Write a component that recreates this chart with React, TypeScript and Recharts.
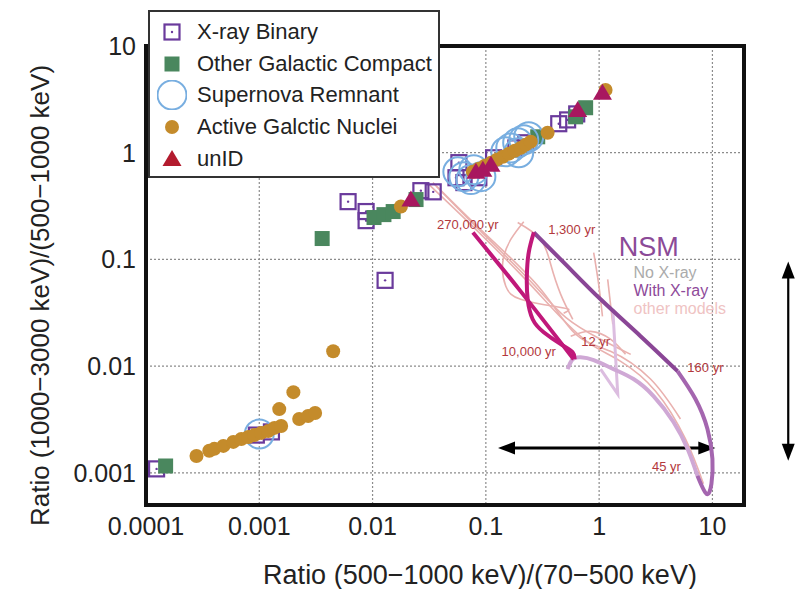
import React from 'react';
import { ScatterChart, Scatter, XAxis, YAxis, CartesianGrid, ReferenceArea, ReferenceLine, Label } from 'recharts';

const FONT = "'Liberation Sans', Arial, Helvetica, sans-serif";

const xTicks = [0.0001, 0.001, 0.01, 0.1, 1, 10];
const yTicks = [0.001, 0.01, 0.1, 1, 10];
const xDomain = [0.0001, 19];
const yDomain = [0.0005, 10];

const legendItems = ['X-ray Binary', 'Other Galactic Compact', 'Supernova Remnant', 'Active Galctic Nuclei', 'unID'];

// source classes
const xrayBinary = [
  { x: 0.000124, y: 0.00109 }, { x: 0.000942, y: 0.00226 }, { x: 0.00128, y: 0.00242 },
  { x: 0.00608, y: 0.348 }, { x: 0.00877, y: 0.281 }, { x: 0.00877, y: 0.231 },
  { x: 0.0267, y: 0.441 }, { x: 0.0343, y: 0.43 }, { x: 0.0129, y: 0.0637 },
  { x: 0.0578, y: 0.807 }, { x: 0.0545, y: 0.583 }, { x: 0.064, y: 0.525 },
  { x: 0.0867, y: 0.583 }, { x: 0.117, y: 0.897 }, { x: 0.184, y: 1.11 },
  { x: 0.225, y: 1.24 }, { x: 0.44, y: 1.87 }, { x: 0.527, y: 2.03 }, { x: 0.634, y: 2.31 },
];

const galacticCompact = [
  { x: 0.000149, y: 0.00116 }, { x: 0.00359, y: 0.157 }, { x: 0.0103, y: 0.247 },
  { x: 0.0126, y: 0.263 }, { x: 0.0152, y: 0.281 }, { x: 0.0242, y: 0.364 },
  { x: 0.287, y: 1.41 }, { x: 0.62, y: 2.17 }, { x: 0.76, y: 2.64 },
];

const supernovaRemnant = [
  { x: 0.001, y: 0.00231 }, { x: 0.0566, y: 0.664 }, { x: 0.064, y: 0.597 },
  { x: 0.0783, y: 0.694 }, { x: 0.0904, y: 0.597 }, { x: 0.0738, y: 0.56 },
  { x: 0.166, y: 1.11 }, { x: 0.191, y: 1.24 }, { x: 0.216, y: 1.32 },
  { x: 0.239, y: 1.41 }, { x: 0.195, y: 1.0 }, { x: 0.15, y: 1.02 },
];

const agn = [
  { x: 0.000279, y: 0.00144 }, { x: 0.000362, y: 0.00161 }, { x: 0.000401, y: 0.00168 },
  { x: 0.000482, y: 0.00179 }, { x: 0.00059, y: 0.00195 }, { x: 0.000694, y: 0.00208 },
  { x: 0.0008, y: 0.00217 }, { x: 0.000904, y: 0.00226 }, { x: 0.00104, y: 0.00237 },
  { x: 0.0012, y: 0.00247 }, { x: 0.00136, y: 0.00264 }, { x: 0.00156, y: 0.00275 },
  { x: 0.0015, y: 0.00396 }, { x: 0.002, y: 0.00571 }, { x: 0.00225, y: 0.0032 },
  { x: 0.0027, y: 0.00341 }, { x: 0.00311, y: 0.00364 }, { x: 0.00449, y: 0.0138 },
  { x: 0.0178, y: 0.313 }, { x: 0.0767, y: 0.664 }, { x: 0.0867, y: 0.708 },
  { x: 0.098, y: 0.756 }, { x: 0.111, y: 0.807 }, { x: 0.125, y: 0.861 },
  { x: 0.141, y: 0.918 }, { x: 0.16, y: 0.98 }, { x: 0.18, y: 1.045 },
  { x: 0.203, y: 1.11 }, { x: 0.225, y: 1.19 }, { x: 0.249, y: 1.27 },
  { x: 0.351, y: 1.54 }, { x: 1.14, y: 3.88 },
];

const unID = [
  { x: 0.0218, y: 0.364 }, { x: 0.0817, y: 0.664 }, { x: 0.0941, y: 0.693 },
  { x: 0.111, y: 0.773 }, { x: 0.647, y: 2.52 }, { x: 1.07, y: 3.64 },
];

// NSM tracks
const nsmWithXray = [
  { x: 0.265, y: 0.179 }, { x: 0.527, y: 0.0861 }, { x: 1.03, y: 0.0423 },
  { x: 2.32, y: 0.0191 }, { x: 4.92, y: 0.00898 },
];
const nsmWithXrayLate = [
  { x: 4.92, y: 0.00898 }, { x: 7.08, y: 0.00492 }, { x: 9.04, y: 0.00258 },
  { x: 10, y: 0.00135 }, { x: 9.8, y: 0.000789 }, { x: 8.85, y: 0.000637 }, { x: 7.38, y: 0.000938 },
];
const nsmReturn = [
  { x: 7.38, y: 0.000938 }, { x: 6.03, y: 0.00168 }, { x: 4.53, y: 0.003 },
  { x: 3.02, y: 0.00525 }, { x: 2.01, y: 0.00757 }, { x: 1.34, y: 0.00938 },
  { x: 0.895, y: 0.0114 }, { x: 0.687, y: 0.0121 }, { x: 0.584, y: 0.0116 }, { x: 0.527, y: 0.00938 },
];
const nsmHook = [
  { x: 1.03, y: 0.00938 }, { x: 1.46, y: 0.00547 }, { x: 1.32, y: 0.0341 },
];
const nsmOld = [
  { x: 0.0768, y: 0.179 }, { x: 0.203, y: 0.0502 }, { x: 0.596, y: 0.0116 },
];
const nsmLoop = [
  { x: 0.265, y: 0.179 }, { x: 0.239, y: 0.116 }, { x: 0.23, y: 0.0694 },
  { x: 0.234, y: 0.0423 }, { x: 0.259, y: 0.0275 }, { x: 0.324, y: 0.0208 },
  { x: 0.458, y: 0.0161 }, { x: 0.584, y: 0.0135 }, { x: 0.608, y: 0.0116 },
];
const otherModels = [
  [{ x: 0.0315, y: 0.502 }, { x: 0.0738, y: 0.212 }, { x: 0.203, y: 0.0724 }, { x: 0.458, y: 0.0287 },
   { x: 0.841, y: 0.0161 }, { x: 1.55, y: 0.0111 }, { x: 3.15, y: 0.00583 }, { x: 5.78, y: 0.00208 }, { x: 8.33, y: 0.000789 }],
  [{ x: 0.0341, y: 0.525 }, { x: 0.0904, y: 0.183 }, { x: 0.249, y: 0.0622 }, { x: 0.507, y: 0.0287 },
   { x: 1.03, y: 0.0179 }, { x: 1.9, y: 0.0129 }],
  [{ x: 0.037, y: 0.481 }, { x: 0.111, y: 0.154 }, { x: 0.305, y: 0.0525 }, { x: 0.621, y: 0.0199 },
   { x: 1.26, y: 0.0138 }, { x: 2.84, y: 0.00757 }, { x: 5.22, y: 0.0032 }],
  [{ x: 0.216, y: 0.226 }, { x: 0.166, y: 0.154 }, { x: 0.141, y: 0.0938 }, { x: 0.15, y: 0.056 },
   { x: 0.203, y: 0.0423 }, { x: 0.397, y: 0.0364 }, { x: 0.538, y: 0.0341 }, { x: 0.486, y: 0.0313 }],
  [{ x: 0.191, y: 0.222 }, { x: 0.305, y: 0.154 }, { x: 0.374, y: 0.0898 }, { x: 0.458, y: 0.0471 }, { x: 0.585, y: 0.0275 }],
  [{ x: 0.895, y: 0.116 }, { x: 0.991, y: 0.0583 }, { x: 1.07, y: 0.0293 }],
  [{ x: 1.19, y: 0.065 }, { x: 1.32, y: 0.0247 }],
  [{ x: 0.561, y: 0.0191 }, { x: 0.841, y: 0.0212 }, { x: 1.26, y: 0.0179 }, { x: 1.71, y: 0.0129 }],
];

const ageLabels = [
  { x: 0.0693, y: 0.212, text: '270,000 yr' },
  { x: 0.573, y: 0.1905, text: '1,300 yr' },
  { x: 0.931, y: 0.0171, text: '12 yr' },
  { x: 0.239, y: 0.0138, text: '10,000 yr' },
  { x: 8.67, y: 0.0098, text: '160 yr' },
  { x: 3.93, y: 0.00116, text: '45 yr' },
];
const nsmKey = [
  { x: 1.49, y: 0.132, text: 'NSM', color: '#8b4a97', size: 27 },
  { x: 2.01, y: 0.0757, text: 'No X-ray', color: '#ababab', size: 16 },
  { x: 2.01, y: 0.0513, text: 'With X-ray', color: '#8e4a9a', size: 16 },
  { x: 2.01, y: 0.0348, text: 'other models', color: '#efc3c3', size: 16 },
];

const hArrow = [{ x: 0.128, y: 0.00171 }, { x: 10.6, y: 0.00171 }];
const vArrow = [{ x: 46.7, y: 0.0957 }, { x: 46.7, y: 0.0013 }];

const PURPLE = '#6a3a9c';
const GREEN = '#4a875e';
const BLUE = '#78aee0';
const GOLD = '#c48b2b';
const RED = '#a8175f';

const Nothing = () => <g />;

const XrbShape = ({ cx, cy }: any) => (
  <g>
    <rect x={cx - 7.5} y={cy - 7.5} width={15} height={15} fill="none" stroke={PURPLE} strokeWidth={2.2} />
    <circle cx={cx} cy={cy} r={1.2} fill={PURPLE} />
  </g>
);
const GreenShape = ({ cx, cy }: any) => <rect x={cx - 7.5} y={cy - 7.5} width={15} height={15} fill={GREEN} />;
const SnrShape = ({ cx, cy }: any) => <circle cx={cx} cy={cy} r={14.5} fill="none" stroke={BLUE} strokeWidth={2} />;
const AgnShape = ({ cx, cy }: any) => <circle cx={cx} cy={cy} r={7} fill={GOLD} />;
const TriShape = ({ cx, cy }: any) => (
  <polygon points={`${cx},${cy - 9} ${cx - 9.5},${cy + 7} ${cx + 9.5},${cy + 7}`} fill={RED} />
);

const AgeText = ({ cx, cy, payload }: any) => (
  <text x={cx} y={cy} dy="0.35em" textAnchor="middle" fontSize={13} fill="#b3383c" fontFamily={FONT}>
    {payload.text}
  </text>
);
const KeyText = ({ cx, cy, payload }: any) => (
  <text x={cx} y={cy} dy="0.35em" textAnchor="start" fontSize={payload.size} fill={payload.color} fontFamily={FONT}>
    {payload.text}
  </text>
);

const ArrowShape = ({ x1, y1, x2, y2, strokeWidth }: any) => {
  const dx = x2 - x1;
  const dy = y2 - y1;
  const len = Math.hypot(dx, dy) || 1;
  const ux = dx / len;
  const uy = dy / len;
  const L = 17;
  const W = 6.5;
  const head = (tx: number, ty: number, ix: number, iy: number) =>
    `${tx},${ty} ${tx - ix * L - iy * W},${ty - iy * L + ix * W} ${tx - ix * L + iy * W},${ty - iy * L - ix * W}`;
  return (
    <g>
      <line x1={x1 + ux * 10} y1={y1 + uy * 10} x2={x2 - ux * 10} y2={y2 - uy * 10} stroke="#000" strokeWidth={strokeWidth} />
      <polygon points={head(x2, y2, ux, uy)} fill="#000" />
      <polygon points={head(x1, y1, -ux, -uy)} fill="#000" />
    </g>
  );
};

const LegendIcon = ({ index }: { index: number }) => (
  <svg width={30} height={30}>
    {index === 0 && <XrbShape cx={15} cy={15} />}
    {index === 1 && <GreenShape cx={15} cy={15} />}
    {index === 2 && <SnrShape cx={15} cy={15} />}
    {index === 3 && <AgnShape cx={15} cy={15} />}
    {index === 4 && <polygon points="15,6 5.5,22 24.5,22" fill="#b31b2e" />}
  </svg>
);

const ChartLegend = () => (
  <div style={{ position: 'absolute', left: 148, top: 10, width: 292, height: 168, border: '2px solid #333', background: '#fff', boxSizing: 'border-box', fontFamily: FONT }}>
    {legendItems.map((name, i) => (
      <div key={name} style={{ position: 'absolute', left: 7, top: 5 + i * 31.7, height: 30, display: 'flex', alignItems: 'center', whiteSpace: 'nowrap' }}>
        <LegendIcon index={i} />
        <span style={{ marginLeft: 10, fontSize: 22, color: '#222', lineHeight: '30px' }}>{name}</span>
      </div>
    ))}
  </div>
);

const XTitle = ({ viewBox }: any) => {
  const vb = viewBox || { x: 146, y: 505, width: 598, height: 40 };
  return (
    <text x={vb.x + vb.width / 2 + 35} y={vb.y + 70} dy="0.35em" textAnchor="middle" fontSize={27} fill="#222" fontFamily={FONT}>
      Ratio (500−1000 keV)/(70−500 keV)
    </text>
  );
};
const YTitle = ({ viewBox }: any) => {
  const vb = viewBox || { x: 86, y: 46, width: 60, height: 459 };
  const cx = vb.x - 46;
  const cy = vb.y + vb.height / 2 + 20;
  return (
    <text x={cx} y={cy} dy="0.35em" textAnchor="middle" fontSize={26} fill="#222" fontFamily={FONT} transform={`rotate(-90, ${cx}, ${cy})`}>
      Ratio (1000−3000 keV)/(500−1000 keV)
    </text>
  );
};

export default function App() {
  const tickStyle = { fontSize: 25, fill: '#222', fontFamily: FONT };
  return (
    <div style={{ position: 'absolute', left: 0, top: 0, width: 808, height: 589, background: '#fff' }}>
      <ScatterChart width={808} height={589} margin={{ top: 46, right: 64, bottom: 44, left: 86 }}>
        <CartesianGrid stroke="#8c8c8c" strokeDasharray="2 2" strokeWidth={1.2} />
        <XAxis type="number" dataKey="x" scale="log" domain={xDomain} ticks={xTicks} allowDataOverflow
          height={40} tickLine={false} axisLine={false} tickSize={0} tickMargin={12} tick={tickStyle} interval={0}>
          <Label content={<XTitle />} />
        </XAxis>
        <YAxis type="number" dataKey="y" scale="log" domain={yDomain} ticks={yTicks} allowDataOverflow
          width={60} tickLine={false} axisLine={false} tickSize={0} tickMargin={10} tick={tickStyle} interval={0}>
          <Label content={<YTitle />} />
        </YAxis>

        {otherModels.map((pts, i) => (
          <Scatter key={`om-${i}`} data={pts} shape={Nothing} line={{ stroke: '#e9b1af', strokeWidth: 1.6 }}
            lineJointType="natural" isAnimationActive={false} />
        ))}
        <Scatter data={nsmHook} shape={Nothing} line={{ stroke: '#dcbde0', strokeWidth: 3 }} lineJointType="linear" isAnimationActive={false} />
        <Scatter data={nsmReturn} shape={Nothing} line={{ stroke: '#cfa8d5', strokeWidth: 4 }} lineJointType="natural" isAnimationActive={false} />
        <Scatter data={nsmWithXrayLate} shape={Nothing} line={{ stroke: '#a466af', strokeWidth: 4 }} lineJointType="natural" isAnimationActive={false} />
        <Scatter data={nsmWithXray} shape={Nothing} line={{ stroke: '#8a4696', strokeWidth: 4 }} lineJointType="natural" isAnimationActive={false} />
        <Scatter data={nsmOld} shape={Nothing} line={{ stroke: '#c0187a', strokeWidth: 4 }} lineJointType="natural" isAnimationActive={false} />
        <Scatter data={nsmLoop} shape={Nothing} line={{ stroke: '#c0187a', strokeWidth: 4 }} lineJointType="natural" isAnimationActive={false} />

        <Scatter data={xrayBinary} shape={XrbShape} isAnimationActive={false} />
        <Scatter data={galacticCompact} shape={GreenShape} isAnimationActive={false} />
        <Scatter data={supernovaRemnant} shape={SnrShape} isAnimationActive={false} />
        <Scatter data={agn} shape={AgnShape} isAnimationActive={false} />
        <Scatter data={unID} shape={TriShape} isAnimationActive={false} />

        <Scatter data={ageLabels} shape={AgeText} isAnimationActive={false} />
        <Scatter data={nsmKey} shape={KeyText} isAnimationActive={false} />

        <ReferenceArea x1={xDomain[0]} x2={xDomain[1]} y1={yDomain[0]} y2={yDomain[1]} fill="none" stroke="#111" strokeWidth={4} ifOverflow="visible" />
        <ReferenceLine segment={hArrow} ifOverflow="visible" strokeWidth={3} shape={ArrowShape} />
        <ReferenceLine segment={vArrow} ifOverflow="visible" strokeWidth={2.2} shape={ArrowShape} />
      </ScatterChart>
      <ChartLegend />
    </div>
  );
}
